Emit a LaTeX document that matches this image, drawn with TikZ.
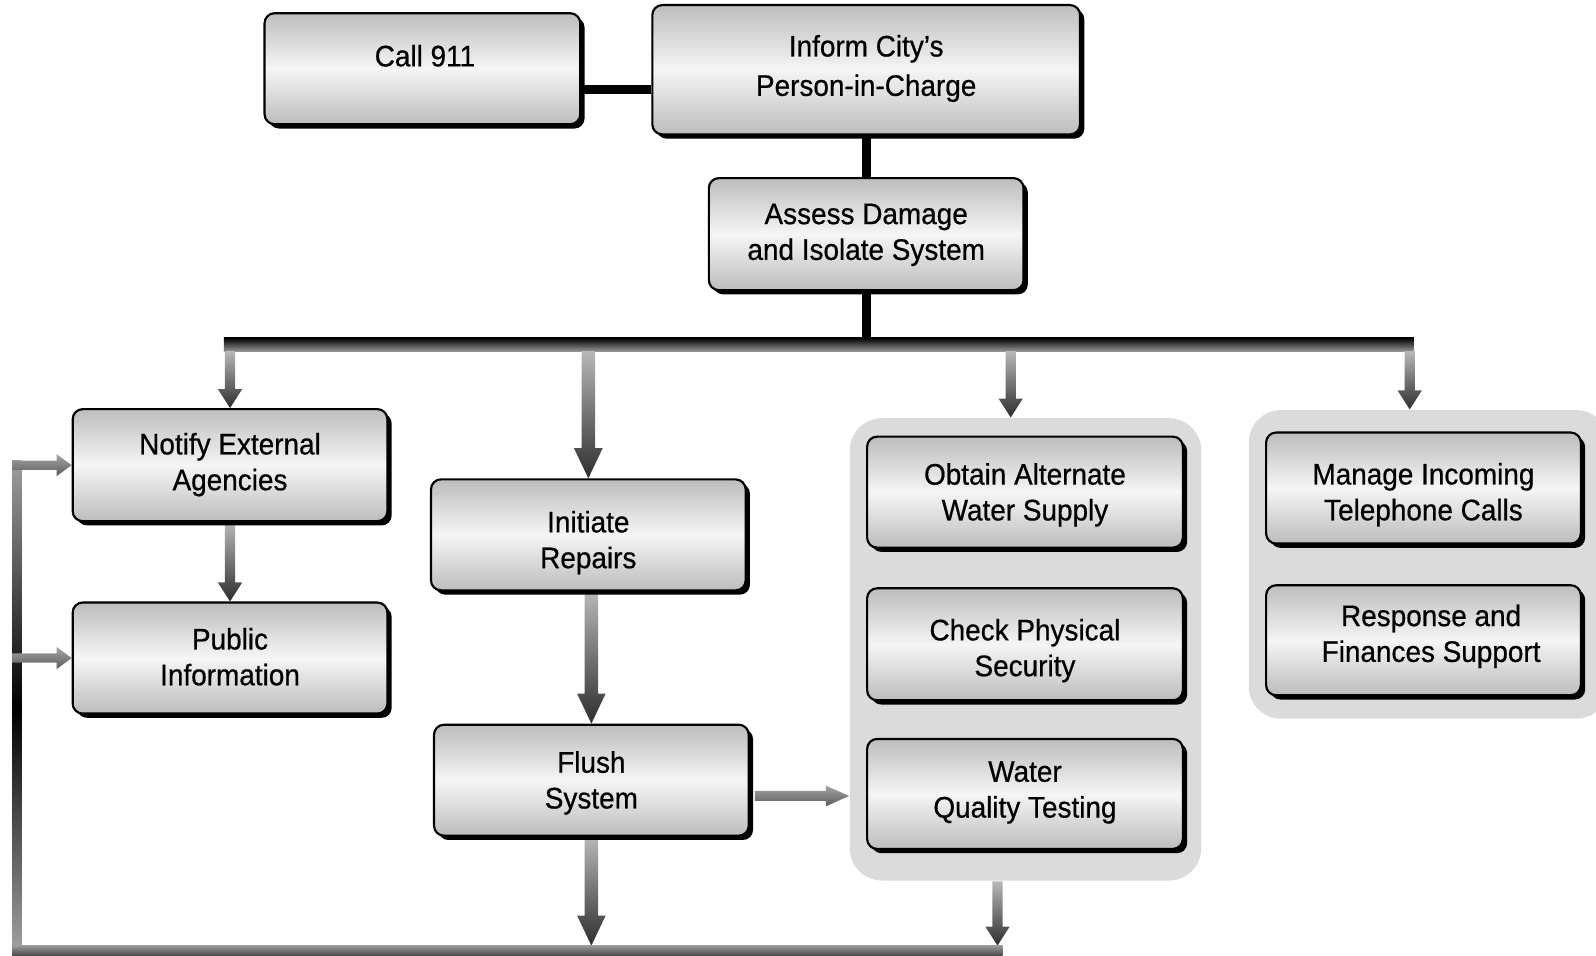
\documentclass[tikz,border=0pt]{standalone}
\usepackage{fontspec}
\setmainfont[FakeStretch=0.94, FakeBold=0.6]{Liberation Sans}
\usetikzlibrary{calc, shadows, positioning}

\pgfdeclarelayer{background}
\pgfsetlayers{background,main}

% grey - black - grey for the return line on the left
\pgfdeclareverticalshading{loopshade}{100bp}{color(0bp)=(black!36); color(25bp)=(black!36);
  color(50bp)=(black); color(75bp)=(black!38); color(100bp)=(black!38)}

% arrow sizes
\newcommand{\smalltips}{\def\arrshaft{1.45pt}\def\arrhead{3.4pt}\def\arrlen{5.3pt}}
\newcommand{\bigtips}{\def\arrshaft{1.9pt}\def\arrhead{4pt}\def\arrlen{8.4pt}}
\newcommand{\sidetips}{\def\arrshaft{1.3pt}\def\arrhead{3.1pt}\def\arrlen{4.2pt}}

% shaded block arrows: y of #1, down to the tip #2
\newcommand{\flowdown}[2]{%
  \path[downfill] let \p1=#1, \p2=#2 in
    (\x2-\arrshaft,\y1) -- (\x2+\arrshaft,\y1) -- (\x2+\arrshaft,\y2+\arrlen)
    -- (\x2+\arrhead,\y2+\arrlen) -- (\x2,\y2) -- (\x2-\arrhead,\y2+\arrlen)
    -- (\x2-\arrshaft,\y2+\arrlen) -- cycle;}
% x of #1, right to the tip #2
\newcommand{\flowright}[2]{%
  \path[rightfill] let \p1=#1, \p2=#2 in
    (\x1,\y2+\arrshaft) -- (\x2-\arrlen,\y2+\arrshaft) -- (\x2-\arrlen,\y2+\arrhead)
    -- (\x2,\y2) -- (\x2-\arrlen,\y2-\arrhead) -- (\x2-\arrlen,\y2-\arrshaft)
    -- (\x1,\y2-\arrshaft) -- cycle;}

\tikzset{
  box/.style={rectangle, rounded corners=2.8pt, draw=black, line width=0.6pt,
    top color=black!26, bottom color=black!26, middle color=black!4,
    minimum width=3.09cm, minimum height=1.09cm, align=center, inner sep=2pt,
    font=\fontsize{8.3}{10}\selectfont, text height=17pt, text depth=3pt,
    drop shadow={shadow xshift=1.2pt, shadow yshift=-1.2pt, fill=black, opacity=1}},
  group/.style={rectangle, rounded corners=9pt, fill=black!14, inner sep=0pt},
  link/.style={line width=2.6pt, black},
  downfill/.style={top color=black!28, bottom color=black!82},
  rightfill/.style={top color=black!35, bottom color=black!64},
  busbar/.style={top color=black, bottom color=black!42},
  returnbar/.style={top color=black!40, bottom color=black!72}
}

\begin{document}
\begin{tikzpicture}[x=0.01cm, y=-0.01cm]
\clip (0,0) rectangle (1568,939);

% grey panels
\begin{pgfonlayer}{background}
  \node (watergrp) [group, minimum width=3.45cm, minimum height=4.54cm] at (1007.5,638) {};
  \node (phonegrp) [group, minimum width=3.53cm, minimum height=3.03cm] at (1403.5,554.5) {};
\end{pgfonlayer}

% top of the chain
\node (call) [box, minimum width=3.1cm, text height=1.7pt] at (415,67.5) {\hspace*{0.05cm}Call 911};
\node (inform) [box, minimum width=4.2cm, minimum height=1.27cm, text height=17.6pt] at (851,68.5)
  {Inform City's\\[1pt]Person-in-Charge};
\node (assess) [box, minimum height=1.1cm, text height=17.4pt] at (851,230) {Assess Damage\\and Isolate System};

% left column
\node (notify) [box, minimum height=1.1cm] at (226,457) {Notify External\\Agencies};
\node (public) [box, text height=18.2pt] at (226,646.5) {Public\\Information};

% middle column
\node (repairs) [box, text height=21.6pt] at (578,525.5) {Initiate\\Repairs};
\node (flush) [box, text height=18.8pt] at (581,766.5) {Flush\\System};

% water panel
\node (supply) [box, minimum width=3.1cm, text height=18.8pt] at (1007,483.5) {Obtain Alternate\\Water Supply};
\node (security) [box, minimum width=3.1cm, minimum height=1.1cm, text height=20.8pt] at (1007,633) {Check Physical\\Security};
\node (quality) [box, minimum width=3.1cm, minimum height=1.08cm, text height=16.2pt] at (1007,780) {Water\\Quality Testing};

% phone panel
\node (phones) [box, text height=21pt] at (1398.5,479.5) {Manage Incoming\\Telephone Calls};
\node (finance) [box, minimum height=1.08cm, text height=15.1pt] at (1398.5,629)
  {\hspace*{0.15cm}Response and\\\hspace*{0.15cm}Finances Support};

\coordinate (busL) at (220,332);
\coordinate (busR) at (1389,345);
\coordinate (sink) at (980,929);
\coordinate (looptop) at (21,452);
\coordinate (loopcorner) at (12,939);

\begin{pgfonlayer}{background}
  \draw[link] ([yshift=-0.205cm]call.east) -- ([yshift=-0.205cm]call.east -| inform.west);
  \draw[link] (inform.south) -- (assess.north);
  \draw[link] (assess.south) -- (assess.south |- busL);
  \path[busbar] (busL) rectangle (busR);

  \smalltips
  \flowdown{(busR)}{(notify.north)}
  \flowdown{(busR)}{([xshift=-0.145cm]watergrp.north)}
  \flowdown{(busR)}{([xshift=-0.185cm]phonegrp.north)}
  \flowdown{(notify.south)}{(public.north)}
  \flowdown{(watergrp.south)}{(sink)}

  \bigtips
  \flowdown{(busR)}{(repairs.north)}
  \flowdown{(repairs.south)}{(flush.north)}
  \flowdown{(flush.south)}{(flush.south |- sink)}

  % return line back to the left column
  \path[shading=loopshade] (looptop) rectangle (loopcorner);
  \path[returnbar] (loopcorner) rectangle ([xshift=0.05cm]sink);
  \sidetips
  \flowright{(loopcorner)}{(notify.west)}
  \flowright{(loopcorner)}{(public.west)}

  \def\arrshaft{1.4pt}\def\arrhead{2.9pt}\def\arrlen{6.5pt}
  \flowright{([xshift=0.05cm]flush.east)}{([yshift=-0.02cm]watergrp.west |- quality.west)}
\end{pgfonlayer}
\end{tikzpicture}
\end{document}
